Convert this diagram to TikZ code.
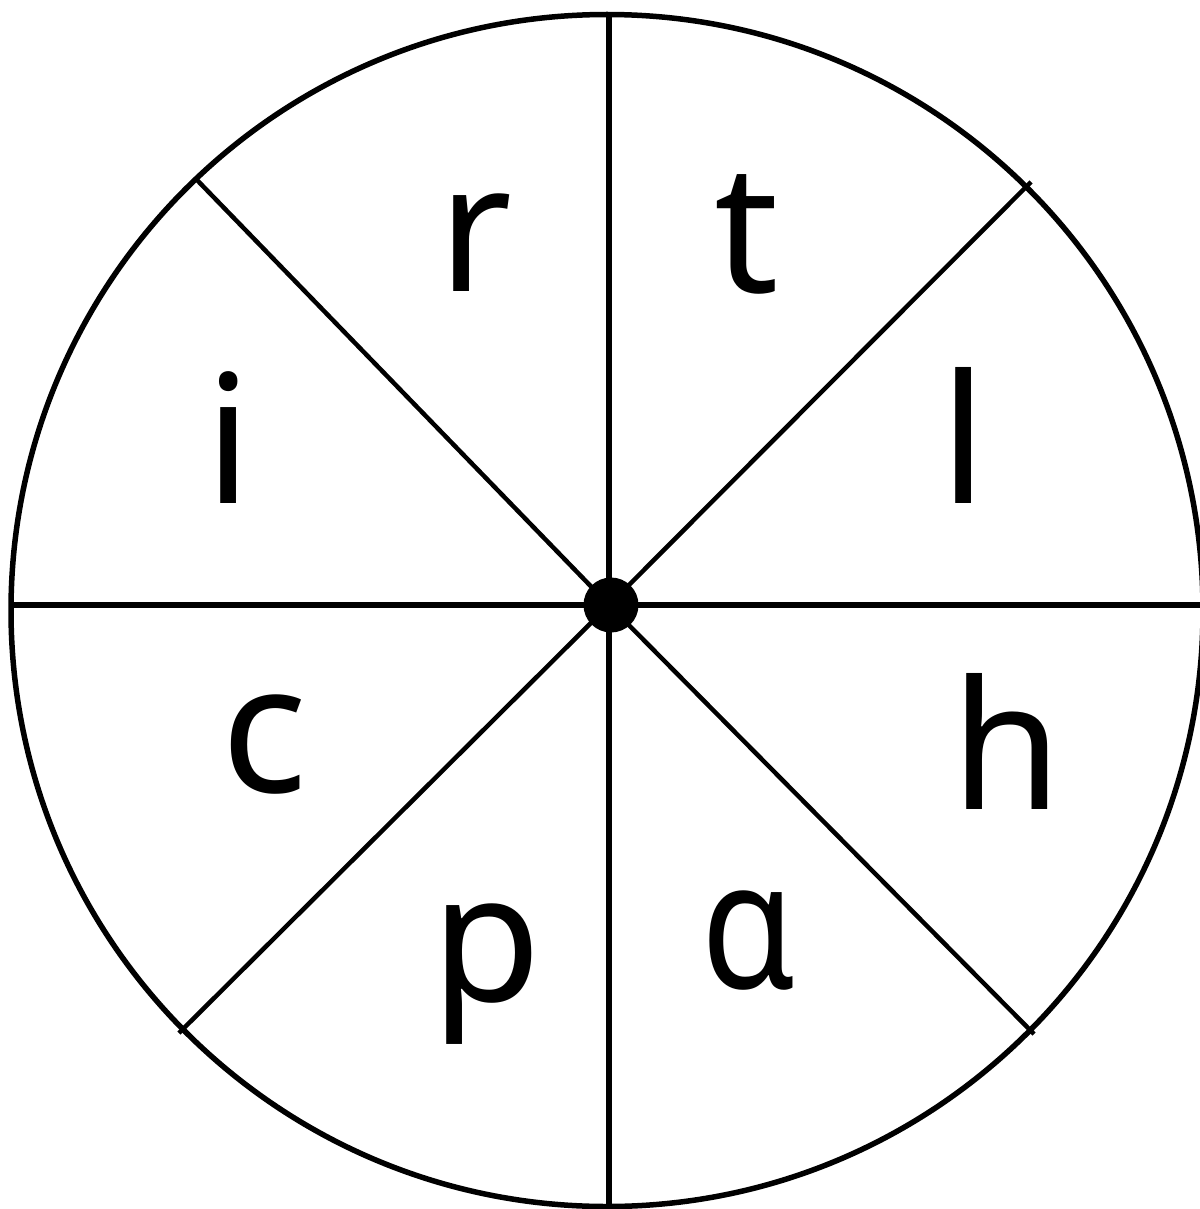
\documentclass[tikz,border=0pt]{standalone}
\usepackage{fontspec}
\setmainfont{Noto Sans}
\tikzset{
  rim/.style={line width=5.5pt},
  spoke/.style={line width=6pt},
  diag/.style={line width=4.5pt},
  letter/.style={anchor=base, inner sep=0pt, font=\fontsize{179}{190}\selectfont},
}
\begin{document}
\begin{tikzpicture}[x=1pt,y=-1pt]
\useasboundingbox (0,0) rectangle (1199,1209);
% circle
\draw[rim] (607,610.5) circle [radius=596];
% spoke ends
\coordinate (O) at (609,605);
\coordinate (T) at (609,15);
\coordinate (B) at (609,1212);
\coordinate (L) at (12,605);
\coordinate (R) at (1205,605);
\coordinate (NW) at (197,180);
\coordinate (NE) at (1031,182);
\coordinate (SE) at (1034,1034);
\coordinate (SW) at (179,1033);
\draw[spoke] (T) -- (O) -- (B);
\draw[spoke] (L) -- (O) -- (R);
\draw[diag] (NW) -- (O) -- (SE);
\draw[diag] (NE) -- (O) -- (SW);
\node[circle, fill=black, minimum size=55pt, inner sep=0pt] (dot) at (611,605) {};
% letters
\node[letter] (r) at (475,291) {r};
\node[letter] (t) at (747,292) {t};
\node[letter] (l) at (964,503) {l};
\node[letter] (i) at (229,503) {i};
\node[letter] (c) at (264,792) {c};
\node[letter] (h) at (1007,809) {h};
\node[letter] (p) at (487,1001) {p};
\node[letter, xscale=0.85] (a) at (748,988) {ɑ};
\end{tikzpicture}
\end{document}
